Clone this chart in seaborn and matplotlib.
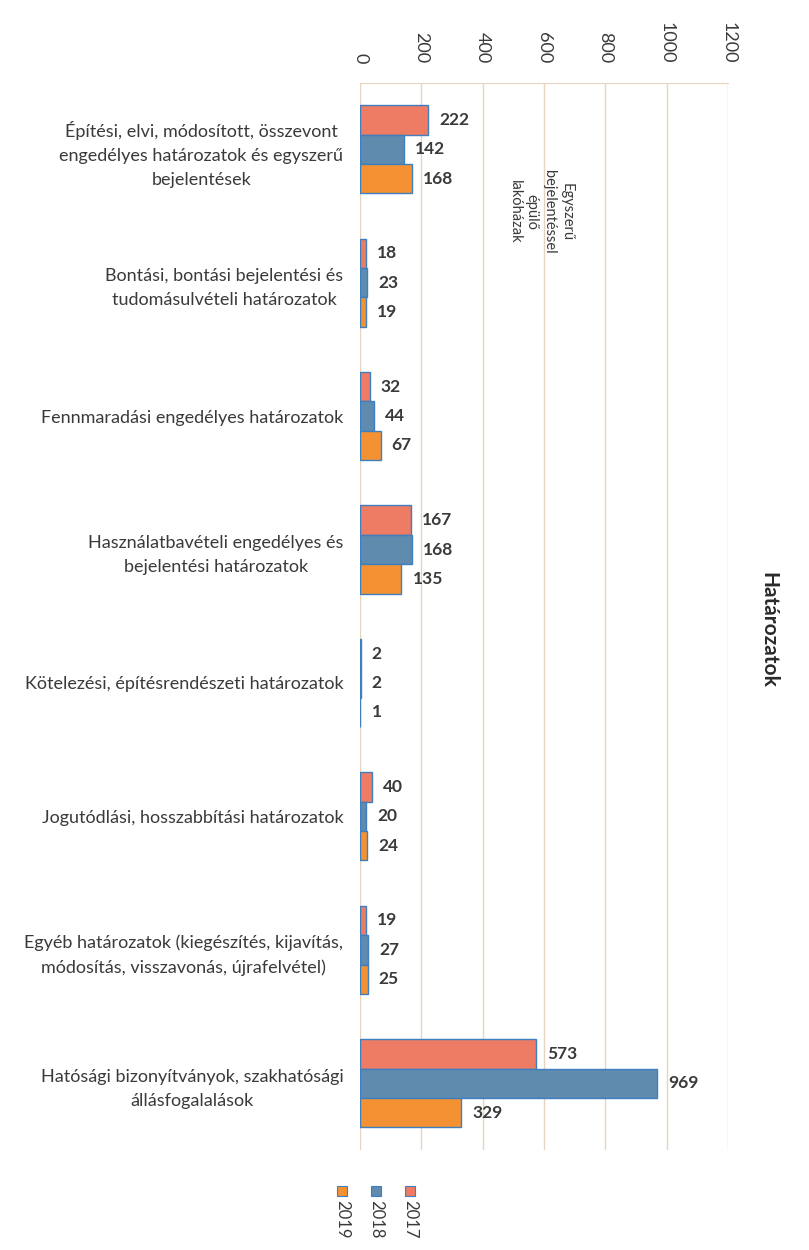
import pandas as pd
import matplotlib.pyplot as plt
import seaborn as sns
from matplotlib.patches import Rectangle

# -----------------------------
# Data
# -----------------------------
categories = [
    "Építési, elvi, módosított, összevont\nengedélyes határozatok és egyszerű\nbejelentések",
    "Bontási, bontási bejelentési és\ntudomásulvételi határozatok",
    "Fennmaradási engedélyes határozatok",
    "Használatbavételi engedélyes és\nbejelentési határozatok",
    "Kötelezési, építésrendészeti határozatok",
    "Jogutódlási, hosszabbítási határozatok",
    "Egyéb határozatok (kiegészítés, kijavítás,\nmódosítás, visszavonás, újrafelvétel)",
    "Hatósági bizonyítványok, szakhatósági\nállásfogalalások",
]
years = ["2017", "2018", "2019"]
values_2017 = [222, 18, 32, 167, 2, 40, 19, 573]
values_2018 = [142, 23, 44, 168, 2, 20, 27, 969]
values_2019 = [168, 19, 67, 135, 1, 24, 25, 329]
x_ticks = [0, 200, 400, 600, 800, 1000, 1200]

colors = ["#EE7B63", "#5E8BAE", "#F39133"]
edge = "#3F7FBF"
grid_c = "#E6D3C0"
text_c = "#3A3A3A"

rows = []
for yr, vals in zip(years, [values_2017, values_2018, values_2019]):
    for c, v in zip(categories, vals):
        rows.append((c, yr, v))
df = pd.DataFrame(rows, columns=["category", "year", "value"])

# -----------------------------
# Plot
# -----------------------------
sns.set_style("white")
plt.rcParams["font.family"] = ["Lato", "DejaVu Sans"]

fig = plt.figure(figsize=(8.09, 12.5), dpi=100)
ax = fig.add_axes([0.445, 0.08, 0.455, 0.854])

sns.barplot(
    data=df, y="category", x="value", hue="year", order=categories,
    hue_order=years, palette=colors, orient="h", width=0.66,
    edgecolor=edge, linewidth=1.0, saturation=1, legend=False, ax=ax,
)

for cont in ax.containers:
    ax.bar_label(cont, padding=8, fontsize=12.5, color=text_c, fontweight="bold")

ax.set_xlim(0, 1200)
ax.set_ylim(len(categories) - 0.5, -0.5)
ax.set_xticks(x_ticks)
ax.xaxis.tick_top()
ax.tick_params(axis="x", length=0, pad=14, labelsize=13, labelcolor=text_c)
for lab in ax.get_xticklabels():
    lab.set_rotation(-90)
    lab.set_va("bottom")
ax.tick_params(axis="y", length=0, pad=12, labelsize=13, labelcolor=text_c)
for lab in ax.get_yticklabels():
    lab.set_multialignment("center")
    lab.set_linespacing(1.6)

ax.grid(axis="x", color=grid_c, linewidth=1)
ax.set_axisbelow(True)
for side in ["left", "right", "bottom"]:
    ax.spines[side].set_visible(False)
ax.spines["top"].set_color(grid_c)
ax.set_xlabel("")
ax.set_ylabel("")

# note on the first group
ax.text(588, 0.47, "Egyszerű\nbejelentéssel\népülő\nlakóházak", rotation=-90,
        ha="center", va="center", fontsize=10.5, color=text_c, linespacing=1.3,
        multialignment="center")

# title on the right
fig.text(0.95, 1 - 630 / 1250, "Határozatok", rotation=-90, ha="center", va="center",
         fontsize=15, fontweight="bold", color="#2A2A2A")

# rotated legend at the bottom
for i, (yr, col) in enumerate(zip(years, colors)):
    x = (410 - 34 * i) / 809
    fig.add_artist(Rectangle((x - 0.006, 1 - 1196 / 1250), 0.012, 0.0078,
                             transform=fig.transFigure, facecolor=col,
                             edgecolor=edge, linewidth=0.8))
    fig.text(x, 1 - 1200 / 1250, yr, rotation=-90, ha="center", va="top",
             fontsize=12, color=text_c)

plt.savefig("out.png", dpi=100)
